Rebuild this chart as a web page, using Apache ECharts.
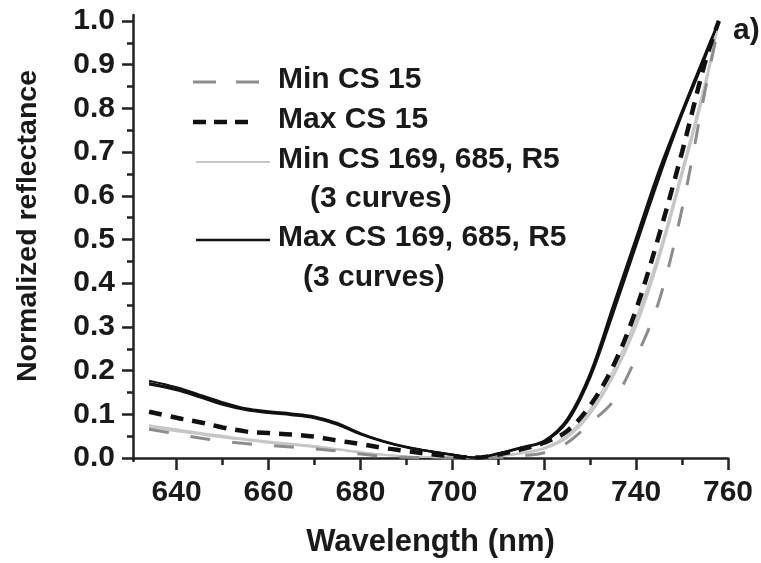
<!DOCTYPE html>
<html>
<head>
<meta charset="utf-8">
<script src="https://cdn.jsdelivr.net/npm/echarts@6/dist/echarts.min.js"></script>
<style>
html,body{margin:0;padding:0;background:#fff;}
#chart{width:761px;height:563px;}
</style>
</head>
<body>
<div id="chart"></div>
<script>
// ---- data ----
var wavelengths = [634, 640, 645, 650, 655, 660, 665, 670, 675, 680, 685, 690, 695, 700, 705, 710, 715, 720, 725, 730, 735, 740, 745, 750, 755, 758];

var minCS15 = [0.066, 0.055, 0.046, 0.039, 0.033, 0.029, 0.025, 0.021, 0.016, 0.009, 0.004, 0.002, 0.001, 0.000, 0.000, 0.001, 0.005, 0.012, 0.035, 0.080, 0.130, 0.230, 0.360, 0.570, 0.840, 0.990];
var maxCS15 = [0.106, 0.092, 0.082, 0.070, 0.061, 0.057, 0.054, 0.049, 0.040, 0.032, 0.023, 0.016, 0.009, 0.004, 0.001, 0.008, 0.020, 0.035, 0.062, 0.120, 0.210, 0.340, 0.510, 0.700, 0.905, 1.000];

var minCS169 = [0.072, 0.063, 0.056, 0.049, 0.042, 0.036, 0.031, 0.026, 0.020, 0.013, 0.008, 0.004, 0.002, 0.001, 0.000, 0.004, 0.011, 0.022, 0.048, 0.105, 0.190, 0.310, 0.460, 0.650, 0.850, 1.000];
var minCS685 = [0.075, 0.066, 0.058, 0.051, 0.044, 0.038, 0.033, 0.028, 0.021, 0.014, 0.008, 0.004, 0.002, 0.001, 0.000, 0.005, 0.012, 0.024, 0.052, 0.112, 0.200, 0.320, 0.470, 0.660, 0.860, 1.000];
var minCSR5 = [0.070, 0.061, 0.054, 0.047, 0.041, 0.035, 0.030, 0.025, 0.019, 0.012, 0.007, 0.003, 0.002, 0.001, 0.000, 0.004, 0.010, 0.021, 0.046, 0.100, 0.185, 0.300, 0.455, 0.645, 0.845, 1.000];

var maxCS169 = [0.172, 0.158, 0.142, 0.125, 0.112, 0.105, 0.100, 0.093, 0.078, 0.055, 0.038, 0.025, 0.016, 0.008, 0.001, 0.010, 0.024, 0.038, 0.085, 0.190, 0.340, 0.495, 0.650, 0.790, 0.920, 1.000];
var maxCS685 = [0.177, 0.162, 0.145, 0.128, 0.114, 0.107, 0.102, 0.095, 0.080, 0.057, 0.039, 0.026, 0.016, 0.008, 0.001, 0.011, 0.025, 0.040, 0.090, 0.195, 0.350, 0.505, 0.660, 0.795, 0.925, 1.000];
var maxCSR5 = [0.168, 0.155, 0.139, 0.122, 0.110, 0.103, 0.098, 0.091, 0.076, 0.054, 0.037, 0.024, 0.015, 0.007, 0.001, 0.009, 0.023, 0.037, 0.082, 0.183, 0.330, 0.485, 0.640, 0.785, 0.915, 1.000];

var xTickValues = [640, 660, 680, 700, 720, 740, 760];
var xMinorTickValues = [650, 670, 690, 710, 730, 750];
var yTickValues = [0, 0.1, 0.2, 0.3, 0.4, 0.5, 0.6, 0.7, 0.8, 0.9, 1.0];
var yTickLabels = ['0.0', '0.1', '0.2', '0.3', '0.4', '0.5', '0.6', '0.7', '0.8', '0.9', '1.0'];
var yMinorTickValues = [0.05, 0.15, 0.25, 0.35, 0.45, 0.55, 0.65, 0.75, 0.85, 0.95];

var legendNames = ['Min CS 15', 'Max CS 15', 'Min CS 169, 685, R5', '(3 curves)', 'Max CS 169, 685, R5', '(3 curves)'];
var xAxisTitle = 'Wavelength (nm)';
var yAxisTitle = 'Normalized reflectance';
var panelLabel = 'a)';

// ---- build ----
function pairs(vals) {
  return wavelengths.map(function (w, i) { return [w, vals[i]]; });
}
var FONT = '"Liberation Sans", Arial, sans-serif';
var TXT = '#1a1a1a';
var AX = '#222';

var styleMinCS15 = { color: '#8c8c8c', width: 3, type: [20, 22], cap: 'butt' };
var styleMaxCS15 = { color: '#111', width: 4.5, type: [13, 9], cap: 'butt' };
var styleMin3 = { color: '#c6c6c6', width: 1.8 };
var styleMax3 = { color: '#111', width: 2 };

function mk(name, vals, ls, z) {
  return {
    type: 'line', name: name, data: pairs(vals), smooth: 0.35,
    showSymbol: false, symbol: 'none', z: z,
    lineStyle: ls, animation: false
  };
}

var series = [
  mk('Min CS 169', minCS169, styleMin3, 2),
  mk('Min CS 685', minCS685, styleMin3, 2),
  mk('Min R5', minCSR5, styleMin3, 2),
  mk('Min CS 15', minCS15, styleMinCS15, 3),
  mk('Max CS 15', maxCS15, styleMaxCS15, 4),
  mk('Max CS 169', maxCS169, styleMax3, 5),
  mk('Max CS 685', maxCS685, styleMax3, 5),
  mk('Max R5', maxCSR5, styleMax3, 5)
];

function legText(str, x, y) {
  return { type: 'text', left: x, top: y - 17, style: { text: str, font: 'bold 30px ' + FONT, fill: TXT } };
}
function legLine(x1, x2, y, ls) {
  return {
    type: 'line', shape: { x1: x1, y1: y, x2: x2, y2: y },
    style: { stroke: ls.color, lineWidth: ls.width, lineDash: Array.isArray(ls.type) ? ls.type : null, lineCap: 'butt' }
  };
}

var graphics = [
  legLine(193, 259, 82, { color: '#8c8c8c', width: 3, type: [23, 20] }),
  legText(legendNames[0], 278, 82),
  legLine(193, 256, 122, { color: '#111', width: 4.5, type: [13, 8] }),
  legText(legendNames[1], 278, 122),
  legLine(196, 270, 162, { color: '#c6c6c6', width: 2 }),
  legText(legendNames[2], 278, 162),
  legText(legendNames[3], 310, 201),
  legLine(196, 270, 240, { color: '#111', width: 2.5 }),
  legText(legendNames[4], 278, 240),
  legText(legendNames[5], 303, 280),
  legText(panelLabel, 733, 33)
];

var chart = echarts.init(document.getElementById('chart'), null, { renderer: 'canvas' });
chart.setOption({
  animation: false,
  backgroundColor: '#fff',
  grid: { left: 133, right: 33, top: 15, bottom: 100, containLabel: false },
  xAxis: [{
    type: 'value', min: 630.5, max: 760,
    name: xAxisTitle, nameLocation: 'middle', nameGap: 66,
    nameTextStyle: { fontFamily: FONT, fontWeight: 'bold', fontSize: 31, color: TXT },
    axisLine: { show: true, lineStyle: { color: AX, width: 2.5 } },
    axisTick: { show: true, inside: false, length: 12, lineStyle: { color: AX, width: 2.5 }, customValues: xTickValues },
    axisLabel: { show: true, margin: 17, fontFamily: FONT, fontWeight: 'bold', fontSize: 30, color: TXT, customValues: xTickValues },
    splitLine: { show: false }
  }, {
    type: 'value', min: 630.5, max: 760, position: 'bottom', gridIndex: 0,
    axisLine: { show: false },
    axisTick: { show: true, inside: false, length: 7, lineStyle: { color: AX, width: 2.5 }, customValues: xMinorTickValues },
    axisLabel: { show: false },
    splitLine: { show: false }
  }],
  yAxis: [{
    type: 'value', min: -0.0068, max: 1.0137,
    name: yAxisTitle, nameLocation: 'middle', nameGap: 90,
    nameTextStyle: { fontFamily: FONT, fontWeight: 'bold', fontSize: 28.5, color: TXT, padding: [0, 0, 0, 24] },
    axisLine: { show: true, lineStyle: { color: AX, width: 2.5 } },
    axisTick: { show: true, inside: false, length: 11, lineStyle: { color: AX, width: 2.5 }, customValues: yTickValues },
    axisLabel: {
      show: true, margin: 18, fontFamily: FONT, fontWeight: 'bold', fontSize: 30, color: TXT,
      customValues: yTickValues,
      formatter: function (v) { var i = yTickValues.findIndex(function (t) { return Math.abs(t - v) < 1e-6; }); return i >= 0 ? yTickLabels[i] : ''; }
    },
    splitLine: { show: false }
  }, {
    type: 'value', min: -0.0068, max: 1.0137, position: 'left', gridIndex: 0,
    axisLine: { show: false },
    axisTick: { show: true, inside: false, length: 6, lineStyle: { color: AX, width: 2.5 }, customValues: yMinorTickValues },
    axisLabel: { show: false },
    splitLine: { show: false }
  }],
  series: series,
  graphic: graphics
});
</script>
</body>
</html>
